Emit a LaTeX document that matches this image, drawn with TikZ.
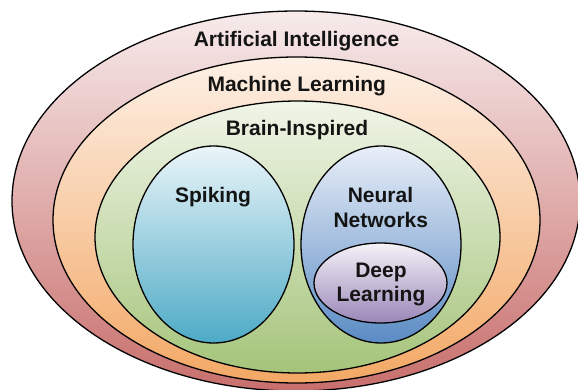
\documentclass[tikz,border=0pt]{standalone}
\usepackage{fontspec}
\setmainfont{Liberation Sans}
\usetikzlibrary{shapes.geometric}
\definecolor{aiTop}{HTML}{F7EBEB}
\definecolor{aiBot}{HTML}{C86F6C}
\definecolor{mlTop}{HTML}{FDF0E6}
\definecolor{mlBot}{HTML}{F3A865}
\definecolor{biTop}{HTML}{F0F5E8}
\definecolor{biBot}{HTML}{A5C47A}
\definecolor{spTop}{HTML}{EAF5F9}
\definecolor{spBot}{HTML}{4DAAC6}
\definecolor{nnTop}{HTML}{E9EFF8}
\definecolor{nnBot}{HTML}{5A8BC4}
\definecolor{dlTop}{HTML}{F4F2F7}
\definecolor{dlBot}{HTML}{9A86B8}
\definecolor{txt}{HTML}{141414}
\tikzset{
  setshape/.style={ellipse, draw=black, line width=1.3pt, inner sep=0pt},
  lbl/.style={anchor=base, inner sep=0pt, text=txt, font=\fontsize{21}{25}\selectfont\bfseries},
}
\begin{document}
\begin{tikzpicture}[x=1pt,y=-1pt]
\useasboundingbox (0,0) rectangle (578,389);
\node[setshape, minimum width=568pt, minimum height=380pt, top color=aiTop, bottom color=aiBot] (ai) at (296,201) {};
\node[setshape, minimum width=487pt, minimum height=326pt, top color=mlTop, bottom color=mlBot] (ml) at (296.5,220) {};
\node[setshape, minimum width=405pt, minimum height=272pt, top color=biTop, bottom color=biBot] (bi) at (297.5,237) {};
\node[setshape, minimum width=161pt, minimum height=197pt, top color=spTop, bottom color=spBot] (sp) at (213.5,244.5) {};
\node[setshape, minimum width=160pt, minimum height=197pt, top color=nnTop, bottom color=nnBot] (nn) at (381,244.5) {};
\node[setshape, minimum width=133pt, minimum height=80pt, top color=dlTop, bottom color=dlBot] (dl) at (380.5,283) {};
\node[lbl] (tai) at (296.5,46) {Artificial Intelligence};
\node[lbl] (tml) at (296.8,91) {Machine Learning};
\node[lbl] (tbi) at (297,135) {Brain-Inspired};
\node[lbl] (tsp) at (213,202) {Spiking};
\node[lbl] (tnn1) at (380.5,202) {Neural};
\node[lbl] (tnn2) at (380.8,227) {Networks};
\node[lbl] (tdl1) at (381,277) {Deep};
\node[lbl] (tdl2) at (381,301) {Learning};
\end{tikzpicture}
\end{document}
